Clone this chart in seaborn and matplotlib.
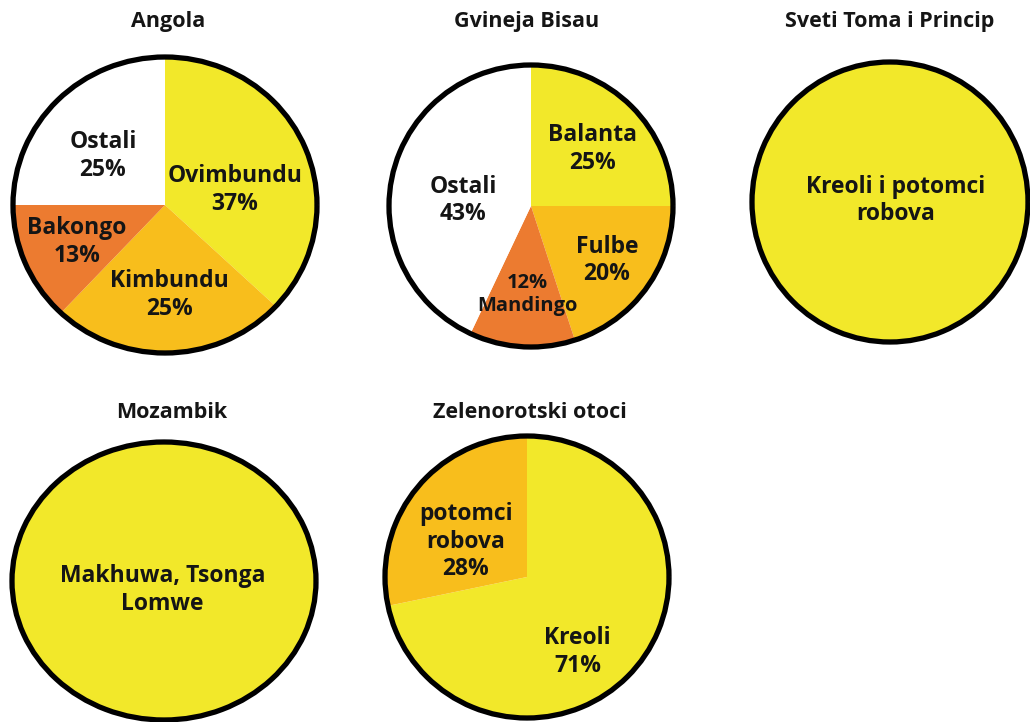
import numpy as np
import matplotlib
matplotlib.use("Agg")
import matplotlib.pyplot as plt
import seaborn as sns

sns.set_theme(style="white")
plt.rcParams['font.family'] = ['Open Sans', 'DejaVu Sans']

# ---------------- data ----------------
angola_labels = ["Ovimbundu\n37%", "Kimbundu\n25%", "Bakongo\n13%", "Ostali\n25%"]
angola_values = [37, 25, 13, 25]

gvineja_labels = ["Balanta\n25%", "Fulbe\n20%", "12%\nMandingo", "Ostali\n43%"]
gvineja_values = [25, 20, 12, 43]

sveti_toma_labels = ["Kreoli i potomci\nrobova"]
sveti_toma_values = [100]

mozambik_labels = ["Makhuwa, Tsonga\nLomwe"]
mozambik_values = [100]

zeleno_labels = ["Kreoli\n71%", "potomci\nrobova\n28%"]
zeleno_values = [71, 28]

titles = ["Angola", "Gvineja Bisau", "Sveti Toma i Princip", "Mozambik", "Zelenorotski otoci"]

# ---------------- style ----------------
YEL = "#F2E82A"
OYL = "#F8BE1C"
ORG = "#EC7B30"
WHT = "#FFFFFF"

W, H = 1030, 722
fig = plt.figure(figsize=(W / 100, H / 100), dpi=100)
fig.patch.set_facecolor("white")

specs = [
    dict(vals=angola_values, labs=angola_labels, title=titles[0],
         geom=(165, 205, 152, 148), title_xy=(168, 22),
         colors=[YEL, OYL, ORG, WHT], dist=[0.47, 0.61, 0.63, 0.525], off=[-11, 1, 0, 6],
         fs=[16.5] * 4),
    dict(vals=gvineja_values, labs=gvineja_labels, title=titles[1],
         geom=(531, 206, 142, 141), title_xy=(527, 22),
         colors=[YEL, OYL, ORG, WHT], dist=[0.59, 0.66, 0.63, 0.48], off=[-2, 0, 1, 8],
         fs=[16.5, 16.5, 14.5, 16.5]),
    dict(vals=sveti_toma_values, labs=sveti_toma_labels, title=titles[2],
         geom=(890, 202, 138, 140), title_xy=(890, 22),
         colors=[YEL], dist=[0.0], off=[0], single=(0.04, 0.01), fs=[16.5]),
    dict(vals=mozambik_values, labs=mozambik_labels, title=titles[3],
         geom=(164, 581, 152, 139), title_xy=(172, 412),
         colors=[YEL], dist=[0.0], off=[0], single=(-0.01, -0.065), fs=[16.5]),
    dict(vals=zeleno_values, labs=zeleno_labels, title=titles[4],
         geom=(527, 577, 142, 141), title_xy=(530, 412),
         colors=[YEL, OYL], dist=[0.64, 0.5], off=[-17, 9], fs=[16.5] * 2),
]

for s in specs:
    cx, cy, rx, ry = s["geom"]
    ax = fig.add_axes([(cx - rx) / W, 1 - (cy + ry) / H, 2 * rx / W, 2 * ry / H])
    wedges, _ = ax.pie(s["vals"], colors=s["colors"], startangle=90, counterclock=False,
                       radius=1, wedgeprops=dict(linewidth=0))
    # outer outline
    ax.pie([1], radius=1, colors=["none"],
           wedgeprops=dict(edgecolor="black", linewidth=3.8, fill=False))
    for w, lab, d, o, f in zip(wedges, s["labs"], s["dist"], s["off"], s["fs"]):
        ang = np.deg2rad((w.theta1 + w.theta2) / 2 + o)
        if "single" in s:
            x, y = s["single"]
        else:
            x, y = d * np.cos(ang), d * np.sin(ang)
        ax.text(x, y, lab, ha="center", va="center", fontsize=f,
                fontweight="bold", color="#151515", linespacing=1.2)
    ax.set_aspect("auto")
    ax.set_xlim(-1, 1)
    ax.set_ylim(-1, 1)
    ax.axis("off")
    for p in ax.patches:
        p.set_clip_on(False)
    tx, ty = s["title_xy"]
    fig.text(tx / W, 1 - ty / H, s["title"], ha="center", va="center",
             fontsize=15.5, fontweight="bold", color="#151515")

fig.savefig("out.png", dpi=100, facecolor="white")
